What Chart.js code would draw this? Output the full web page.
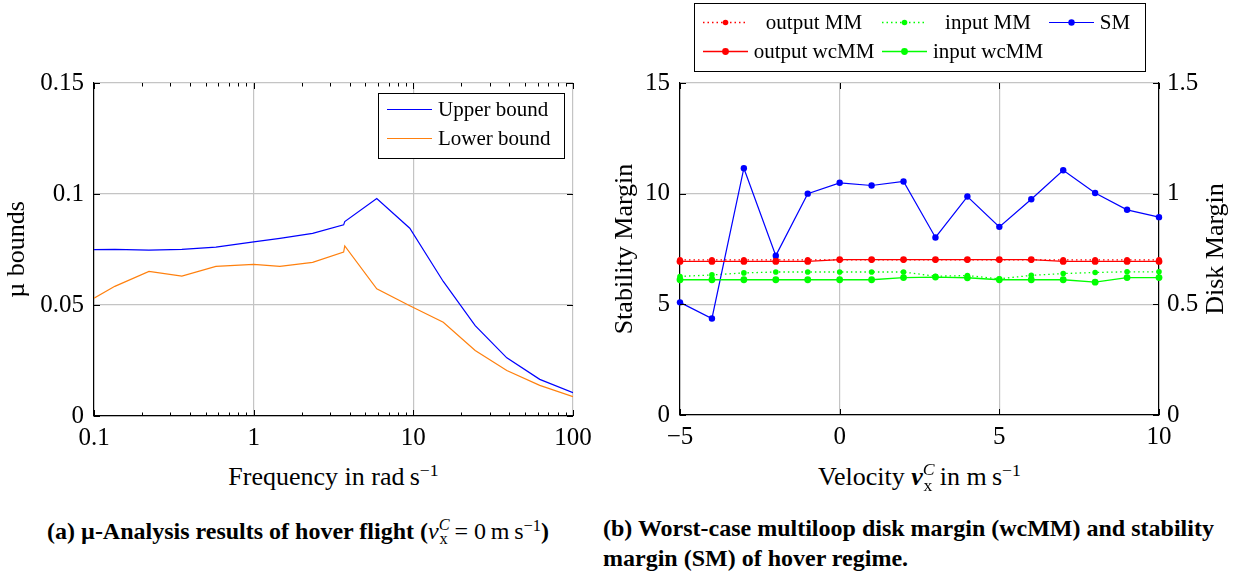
<!DOCTYPE html>
<html>
<head>
<meta charset="utf-8">
<script src="https://cdn.jsdelivr.net/npm/chart.js@4"></script>
<style>
  body { margin: 0; background: #fff; }
  #wrap { position: relative; width: 1245px; height: 573px; font-family: 'Liberation Serif', 'Times New Roman', serif; color: #000; }
  canvas { position: absolute; top: 0; }
  #muChart { left: 0; }
  #marginChart { left: 600px; }
  .xt { position: absolute; top: 462px; font-size: 26px; line-height: 30px; text-align: center; white-space: nowrap; }
  .cap { position: absolute; font-size: 24px; line-height: 30px; font-weight: bold; white-space: nowrap; }
  sup { font-size: 0.68em; vertical-align: 0.5em; line-height: 0; }
  .vx { white-space: nowrap; }
  .vx .sp { position: relative; top: -0.55em; font-size: 0.68em; font-style: italic; }
  .vx .sb { position: relative; top: 0.32em; font-size: 0.68em; margin-left: -0.62em; margin-right: 0.05em; }
  .rm { font-weight: normal; }
</style>
</head>
<body>
<div id="wrap">
  <canvas id="muChart" width="600" height="460"></canvas>
  <canvas id="marginChart" width="645" height="460"></canvas>

  <div class="xt" style="left:94px;width:479px;">Frequency in rad&thinsp;s<sup>−1</sup></div>
  <div class="xt" style="left:680px;width:479px;">Velocity <span class="vx"><b><i>v</i></b><span class="sp">C</span><span class="sb">x</span></span> in m&thinsp;s<sup>−1</sup></div>

  <div class="cap" style="left:0;width:596px;top:516px;text-align:center;">(a) µ-Analysis results of hover flight (<span class="rm"><span class="vx"><i>v</i><span class="sp">C</span><span class="sb">x</span></span> = 0&thinsp;m&thinsp;s<sup>−1</sup></span>)</div>
  <div class="cap" style="left:603px;top:513px;">(b) Worst-case multiloop disk margin (wcMM) and stability<br>margin (SM) of hover regime.</div>
</div>

<script>
const FONT = "'Liberation Serif', 'Times New Roman', serif";

// mu bounds over frequency (rad/s)
const freq = [0.1, 0.135, 0.221, 0.355, 0.58, 1.0, 1.46, 2.34, 3.66, 3.72, 5.9, 9.5, 15.4, 24.4, 38.5, 61.9, 100];
const upperBound = [0.0749, 0.0751, 0.0747, 0.0751, 0.0761, 0.0784, 0.0800, 0.0823, 0.0861, 0.0876, 0.0980, 0.0846, 0.0606, 0.0407, 0.0262, 0.0165, 0.0105];
const lowerBound = [0.0531, 0.0584, 0.0651, 0.0630, 0.0674, 0.0683, 0.0674, 0.0692, 0.0738, 0.0766, 0.0573, 0.0497, 0.0422, 0.0295, 0.0205, 0.0138, 0.0087];
const freqTicks = [0.1, 1, 10, 100];
const muTicks = [0, 0.05, 0.1, 0.15];

// margins over forward velocity (m/s)
const velocity = [-5, -4, -3, -2, -1, 0, 1, 2, 3, 4, 5, 6, 7, 8, 9, 10];
const stabilityMargin = [5.09, 4.36, 11.15, 7.2, 10.0, 10.49, 10.37, 10.55, 8.02, 9.87, 8.5, 9.75, 11.06, 10.03, 9.27, 8.94];
const outputMM = [0.701, 0.701, 0.701, 0.701, 0.701, 0.701, 0.701, 0.701, 0.701, 0.701, 0.701, 0.701, 0.701, 0.701, 0.701, 0.701];
const inputMM = [0.626, 0.633, 0.642, 0.646, 0.646, 0.646, 0.646, 0.646, 0.627, 0.630, 0.615, 0.631, 0.639, 0.644, 0.647, 0.647];
const outputWcMM = [0.694, 0.694, 0.694, 0.694, 0.694, 0.702, 0.702, 0.702, 0.702, 0.702, 0.702, 0.702, 0.694, 0.694, 0.694, 0.694];
const inputWcMM = [0.611, 0.611, 0.611, 0.611, 0.611, 0.611, 0.611, 0.621, 0.623, 0.620, 0.611, 0.611, 0.611, 0.600, 0.621, 0.621];
const smTicks = [0, 5, 10, 15];
const dmTicks = [0, 0.5, 1, 1.5];

const pts = (xs, ys) => xs.map((x, i) => ({ x: x, y: ys[i] }));

// inward tick marks on all four sides, like pgfplots
const innerTicks = {
  id: 'innerTicks',
  afterDatasetsDraw(chart, args, o) {
    const { ctx, chartArea: a, scales } = chart;
    ctx.save();
    ctx.strokeStyle = '#000';
    ctx.lineWidth = 1;
    ctx.beginPath();
    const vx = (v, len) => {
      const p = Math.round(scales.x.getPixelForValue(v)) + 0.5;
      ctx.moveTo(p, a.bottom); ctx.lineTo(p, a.bottom - len);
      ctx.moveTo(p, a.top); ctx.lineTo(p, a.top + len);
    };
    const hy = (v, len) => {
      const p = Math.round(scales.y.getPixelForValue(v)) + 0.5;
      ctx.moveTo(a.left, p); ctx.lineTo(a.left + len, p);
      ctx.moveTo(a.right, p); ctx.lineTo(a.right - len, p);
    };
    scales.x.ticks.forEach(t => vx(t.value, o.major));
    (o.xMinor || []).forEach(v => vx(v, o.minor));
    scales.y.ticks.forEach(t => hy(t.value, o.major));
    ctx.stroke();
    ctx.restore();
  }
};

// framed legend with fixed cells
const boxLegend = {
  id: 'boxLegend',
  afterDraw(chart, args, o) {
    const ctx = chart.ctx;
    const b = o.box;
    ctx.save();
    ctx.fillStyle = '#fff';
    ctx.fillRect(b.left, b.top, b.width, b.height);
    ctx.strokeStyle = '#000';
    ctx.lineWidth = 1;
    ctx.setLineDash([]);
    ctx.strokeRect(b.left + 0.5, b.top + 0.5, b.width, b.height);
    ctx.font = o.size + 'px ' + FONT;
    ctx.textBaseline = 'middle';
    o.items.forEach(it => {
      const ds = chart.data.datasets[it.index];
      ctx.strokeStyle = ds.borderColor;
      ctx.lineWidth = ds.borderWidth;
      ctx.setLineDash(ds.borderDash || []);
      ctx.beginPath();
      ctx.moveTo(it.x, it.y + 0.5);
      ctx.lineTo(it.x + o.sample, it.y + 0.5);
      ctx.stroke();
      ctx.setLineDash([]);
      if (ds.pointRadius) {
        ctx.fillStyle = ds.borderColor;
        ctx.beginPath();
        ctx.arc(it.x + o.sample / 2, it.y + 0.5, ds.pointRadius, 0, Math.PI * 2);
        ctx.fill();
      }
      ctx.fillStyle = '#000';
      ctx.textAlign = it.align;
      ctx.fillText(ds.label, it.tx, it.y + 1);
    });
    ctx.restore();
  }
};

// right axis title, read bottom to top like the left one
const sideTitle = {
  id: 'sideTitle',
  afterDraw(chart, args, o) {
    if (!o.text) return;
    const { ctx, chartArea: a } = chart;
    ctx.save();
    ctx.translate(o.x, (a.top + a.bottom) / 2);
    ctx.rotate(-Math.PI / 2);
    ctx.font = o.size + 'px ' + FONT;
    ctx.fillStyle = '#000';
    ctx.textAlign = 'center';
    ctx.textBaseline = 'middle';
    ctx.fillText(o.text, 0, 0);
    ctx.restore();
  }
};

const tickFont = { family: FONT, size: 25 };
const gridStyle = { color: '#c4c4c4', lineWidth: 1.2, drawTicks: false };
const borderStyle = { color: '#000', width: 1.2 };

const minorFreq = [];
[0.1, 1, 10].forEach(d => { for (let k = 2; k < 10; k++) minorFreq.push(d * k); });

new Chart(document.getElementById('muChart'), {
  type: 'line',
  data: {
    datasets: [{
      label: 'Upper bound',
      data: pts(freq, upperBound),
      borderColor: 'rgb(0,0,255)',
      borderWidth: 1.2,
      pointRadius: 0
    }, {
      label: 'Lower bound',
      data: pts(freq, lowerBound),
      borderColor: 'rgb(255,128,14)',
      borderWidth: 1.2,
      pointRadius: 0
    }]
  },
  options: {
    responsive: false,
    animation: false,
    devicePixelRatio: 1,
    layout: { padding: { top: 83, right: 27, bottom: 14, left: 0 } },
    scales: {
      x: {
        type: 'logarithmic',
        min: 0.1,
        max: 100,
        afterBuildTicks: s => { s.ticks = freqTicks.map(v => ({ value: v })); },
        afterFit: s => { s.height = 30; },
        ticks: { font: tickFont, color: '#000', padding: 7, maxRotation: 0, callback: v => String(v) },
        grid: gridStyle,
        border: borderStyle
      },
      y: {
        min: 0,
        max: 0.15,
        afterBuildTicks: s => { s.ticks = muTicks.map(v => ({ value: v })); },
        afterFit: s => { s.width = 94; },
        ticks: { font: tickFont, color: '#000', padding: 10, callback: v => String(v) },
        grid: gridStyle,
        border: borderStyle,
        title: { display: true, text: 'µ bounds', color: '#000', font: { family: FONT, size: 26 }, padding: { top: 2 } }
      }
    },
    plugins: {
      legend: { display: false },
      tooltip: { enabled: false },
      innerTicks: { major: 6, minor: 3.5, xMinor: minorFreq },
      boxLegend: {
        box: { left: 378, top: 93, width: 186, height: 65 },
        sample: 45,
        size: 21,
        items: [
          { index: 0, x: 387, y: 109, tx: 438, align: 'left' },
          { index: 1, x: 387, y: 138, tx: 438, align: 'left' }
        ]
      }
    }
  },
  plugins: [innerTicks, boxLegend]
});

new Chart(document.getElementById('marginChart'), {
  type: 'line',
  data: {
    datasets: [{
      label: 'output MM',
      data: pts(velocity, outputMM),
      yAxisID: 'y1',
      borderColor: 'rgb(255,0,0)',
      borderWidth: 1.3,
      borderDash: [1.5, 3],
      pointRadius: 2.8,
      pointBorderWidth: 0,
      pointBackgroundColor: 'rgb(255,0,0)',
      clip: false,
      order: 5
    }, {
      label: 'input MM',
      data: pts(velocity, inputMM),
      yAxisID: 'y1',
      borderColor: 'rgb(0,255,0)',
      borderWidth: 1.3,
      borderDash: [1.5, 3],
      pointRadius: 2.8,
      pointBorderWidth: 0,
      pointBackgroundColor: 'rgb(0,255,0)',
      clip: false,
      order: 4
    }, {
      label: 'SM',
      data: pts(velocity, stabilityMargin),
      yAxisID: 'y',
      borderColor: 'rgb(0,0,255)',
      borderWidth: 1.2,
      pointRadius: 3.2,
      pointBorderWidth: 0,
      pointBackgroundColor: 'rgb(0,0,255)',
      clip: false,
      order: 3
    }, {
      label: 'output wcMM',
      data: pts(velocity, outputWcMM),
      yAxisID: 'y1',
      borderColor: 'rgb(255,0,0)',
      borderWidth: 1.3,
      pointRadius: 3.4,
      pointBorderWidth: 0,
      pointBackgroundColor: 'rgb(255,0,0)',
      clip: false,
      order: 2
    }, {
      label: 'input wcMM',
      data: pts(velocity, inputWcMM),
      yAxisID: 'y1',
      borderColor: 'rgb(0,255,0)',
      borderWidth: 1.3,
      pointRadius: 3.4,
      pointBorderWidth: 0,
      pointBackgroundColor: 'rgb(0,255,0)',
      clip: false,
      order: 1
    }]
  },
  options: {
    responsive: false,
    animation: false,
    devicePixelRatio: 1,
    layout: { padding: { top: 83, right: 0, bottom: 15, left: 0 } },
    scales: {
      x: {
        type: 'linear',
        min: -5,
        max: 10,
        afterFit: s => { s.height = 30; },
        ticks: { font: tickFont, color: '#000', padding: 7, stepSize: 5, maxRotation: 0, callback: v => String(v).replace('-', '−') },
        grid: gridStyle,
        border: borderStyle
      },
      y: {
        position: 'left',
        min: 0,
        max: 15,
        afterBuildTicks: s => { s.ticks = smTicks.map(v => ({ value: v })); },
        afterFit: s => { s.width = 80; },
        ticks: { font: tickFont, color: '#000', padding: 10 },
        grid: gridStyle,
        border: borderStyle,
        title: { display: true, text: 'Stability Margin', color: '#000', font: { family: FONT, size: 26 }, padding: { top: 10 } }
      },
      y1: {
        position: 'right',
        min: 0,
        max: 1.5,
        afterBuildTicks: s => { s.ticks = dmTicks.map(v => ({ value: v })); },
        afterFit: s => { s.width = 86; },
        ticks: { font: tickFont, color: '#000', padding: 8, callback: v => String(v) },
        grid: { drawOnChartArea: false, drawTicks: false },
        border: borderStyle
      }
    },
    plugins: {
      legend: { display: false },
      tooltip: { enabled: false },
      innerTicks: { major: 6 },
      sideTitle: { text: 'Disk Margin', x: 616, size: 26 },
      boxLegend: {
        box: { left: 94, top: 3, width: 451, height: 68 },
        sample: 45,
        size: 21,
        items: [
          { index: 0, x: 103, y: 22, tx: 214, align: 'center' },
          { index: 1, x: 282, y: 22, tx: 388, align: 'center' },
          { index: 2, x: 449, y: 22, tx: 515, align: 'center' },
          { index: 3, x: 103, y: 51, tx: 214, align: 'center' },
          { index: 4, x: 282, y: 51, tx: 388, align: 'center' }
        ]
      }
    }
  },
  plugins: [innerTicks, boxLegend, sideTitle]
});
</script>
</body>
</html>
